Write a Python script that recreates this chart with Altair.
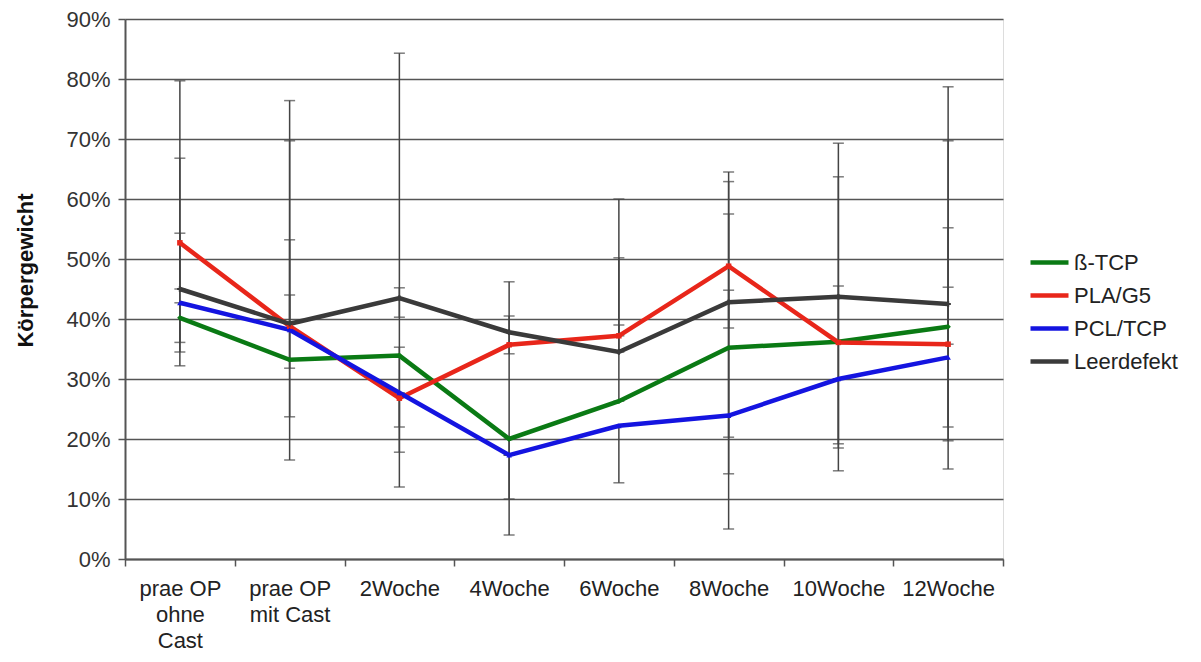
import altair as alt
import pandas as pd

categories = ["prae OP\nohne\nCast", "prae OP\nmit Cast", "2Woche", "4Woche",
              "6Woche", "8Woche", "10Woche", "12Woche"]
series = ["ß-TCP", "PLA/G5", "PCL/TCP", "Leerdefekt"]
colors = ["#0a7a14", "#e8261a", "#1414e0", "#3a3a3a"]
shapes = ["diamond", "square", "triangle-up", "cross"]

# mean values (% Körpergewicht)
tcp = [40.2, 33.2, 33.9, 20.0, 26.3, 35.2, 36.2, 38.7]
pla = [52.7, 38.8, 26.8, 35.7, 37.2, 48.8, 36.1, 35.8]
pcl = [42.7, 38.2, 27.7, 17.3, 22.2, 23.9, 30.0, 33.6]
leer = [45.0, 39.2, 43.5, 37.8, 34.5, 42.8, 43.7, 42.5]

# error bar ends (%)
tcp_lo = [32.2, 31.8, 22.0, 4.0, 26.3, 14.2, 14.7, 19.7]
tcp_hi = [54.3, 44.0, 45.2, 20.0, 39.0, 57.5, 45.5, 69.7]
pla_lo = [36.1, 23.7, 17.8, 10.0, 37.2, 38.5, 18.5, 35.8]
pla_hi = [79.7, 76.4, 35.3, 46.2, 60.0, 64.5, 63.7, 55.2]
pcl_lo = [34.5, 16.5, 12.0, 17.3, 12.7, 5.0, 30.0, 15.0]
pcl_hi = [42.7, 53.2, 27.7, 17.3, 22.2, 44.8, 30.0, 45.3]
leer_lo = [45.0, 39.2, 40.3, 34.2, 34.5, 20.3, 19.2, 22.0]
leer_hi = [66.8, 69.7, 84.3, 40.5, 50.2, 62.9, 69.3, 78.7]

vals = [tcp, pla, pcl, leer]
los = [tcp_lo, pla_lo, pcl_lo, leer_lo]
his = [tcp_hi, pla_hi, pcl_hi, leer_hi]

rows = []
for s, v, lo, hi in zip(series, vals, los, his):
    for i, c in enumerate(categories):
        rows.append({"cat": c, "series": s, "value": v[i], "lo": lo[i], "hi": hi[i], "order": i})
df = pd.DataFrame(rows)

FONT = "Liberation Sans"

x_enc = alt.X("cat:N", sort=categories,
              scale=alt.Scale(type="band", paddingInner=0, paddingOuter=0),
              axis=alt.Axis(title=None, tickBand="extent", labelExpr="split(datum.label, '\\n')",
                            labelAngle=0, labelFontSize=22, labelLineHeight=26, labelPadding=12,
                            labelColor="#222", labelFont=FONT, tickSize=7, tickColor="#555",
                            tickWidth=1.5, domainColor="#555", domainWidth=2, grid=False))
y_scale = alt.Scale(domain=[0, 90], nice=False, zero=True)
y_axis = alt.Axis(title="Körpergewicht", values=list(range(0, 91, 10)),
                  labelExpr="datum.value + '%'", labelFontSize=22, labelFont=FONT,
                  labelColor="#333", labelPadding=8, tickSize=7, tickColor="#555", tickWidth=1.5,
                  domainColor="#555", domainWidth=2, grid=True, gridColor="#555", gridWidth=1.5,
                  titleFont=FONT, titleFontSize=22, titleFontWeight="bold", titleColor="#111",
                  titleAngle=-90, titleX=-100, titleY=251, titleAlign="center",
                  titleBaseline="middle")

color_scale = alt.Scale(domain=series, range=colors)

base = alt.Chart(df)

rules = base.mark_rule(color="#444", strokeWidth=1.5).encode(
    x=x_enc, y=alt.Y("lo:Q", scale=y_scale, axis=y_axis), y2="hi:Q")
caps_lo = base.mark_tick(color="#444", size=11, thickness=1.5).encode(
    x=alt.X("cat:N", sort=categories), y=alt.Y("lo:Q"))
caps_hi = base.mark_tick(color="#444", size=11, thickness=1.5).encode(
    x=alt.X("cat:N", sort=categories), y=alt.Y("hi:Q"))

lines = base.mark_line(strokeWidth=4.5).encode(
    x=alt.X("cat:N", sort=categories),
    y=alt.Y("value:Q"),
    color=alt.Color("series:N", scale=color_scale, sort=series,
                    legend=alt.Legend(title=None, orient="none", legendX=903, legendY=222,
                                      symbolType="stroke", symbolSize=1444,
                                      symbolStrokeWidth=4.5, labelFontSize=22, labelFont=FONT,
                                      labelColor="#222", rowPadding=-11, labelOffset=3)),
    order="order:Q")

point_layers = []
for s, col, shp in zip(series, colors, shapes):
    point_layers.append(
        base.transform_filter(alt.datum.series == s).mark_point(
            filled=True, size=30, opacity=1, color=col, shape=shp).encode(
            x=alt.X("cat:N", sort=categories), y=alt.Y("value:Q")))

chart = alt.layer(rules, caps_lo, caps_hi, lines, *point_layers).properties(
    width=878, height=540,
    autosize=alt.AutoSizeParams(type="none"),
    padding={"left": 117, "top": 11, "right": 190, "bottom": 95},
).configure_view(stroke=None).configure(background="white")

chart.save("out.html", embed_options={"renderer": "svg", "actions": False})
